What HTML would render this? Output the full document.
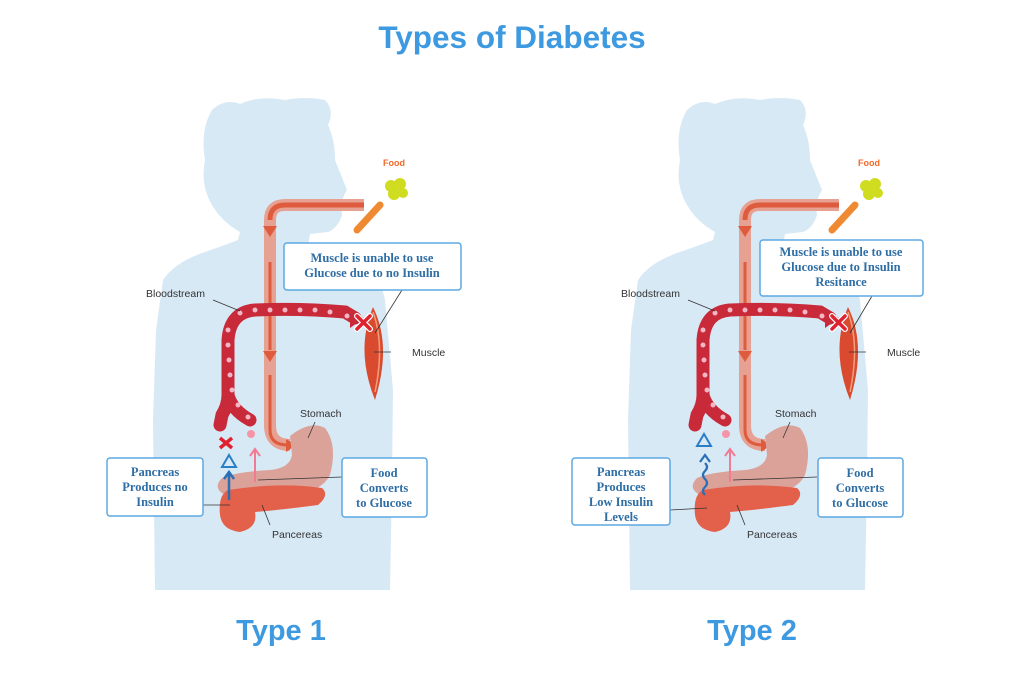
<!DOCTYPE html>
<html><head><meta charset="utf-8"><style>
html,body{margin:0;padding:0;background:#fff;width:1024px;height:683px;overflow:hidden}
svg{display:block}
.lbl{font-family:"Liberation Sans",sans-serif;font-size:10.5px;fill:#333}
.bx{font-family:"Liberation Serif",serif;font-weight:bold;font-size:12.5px;fill:#2f6ea5}
.t{font-family:"Liberation Sans",sans-serif;font-weight:bold;fill:#3d9ae0}
</style></head><body>
<svg width="1024" height="683" viewBox="0 0 1024 683" xmlns="http://www.w3.org/2000/svg">
<defs>
<g id="fig">
  <!-- silhouette -->
  <path fill="#d8e9f6" d="M155,590 L153,420 L156,330 L163,280 Q175,262 205,252 Q225,245 238,240 L240,232 Q222,222 212,205 Q200,185 205,160 Q200,130 212,110 Q225,98 240,104 Q260,95 285,100 Q305,96 325,100 Q335,110 328,125 Q335,140 335,160 L347,190 Q340,200 342,215 Q338,228 328,232 L310,234 L308,245 Q340,255 365,265 Q380,275 385,300 L393,390 L392,480 L390,590 Z"/>
  <!-- food pipe -->
  <path d="M364,205 L285,205 Q270,205 270,220 L270,425 Q270,445 290,445" fill="none" stroke="#e6a192" stroke-width="12"/>
  <path d="M364,205 L285,205 Q270,205 270,220" fill="none" stroke="#df5b3e" stroke-width="5"/>
  <path d="M270,262 L270,350 M270,375 L270,430 Q270,445 288,445" fill="none" stroke="#df5b3e" stroke-width="3"/>
  <path d="M263,226 L277,226 L270,237Z M263,351 L277,351 L270,362Z M286,439 L296,445 L286,452Z" fill="#df5b3e"/>
  <!-- stomach -->
  <path fill="#dba29a" d="M290,436 Q310,420 325,428 Q338,445 330,475 Q322,492 290,495 L225,495 Q212,488 222,478 Q235,472 270,470 Q290,468 292,455 Z"/>
  <!-- bloodstream -->
  <path d="M355,318 L345,312 Q300,308 255,310 Q230,312 228,340 L228,395 Q228,405 222,415 L220,425 M228,395 Q232,410 250,420" fill="none" stroke="#c82a3a" stroke-width="13" stroke-linecap="round"/>
  <path d="M350,308 L364,318 L350,328Z" fill="#c82a3a"/>
  <g fill="#f4b6c4">
    <circle cx="240" cy="313" r="2.5"/><circle cx="255" cy="310" r="2.5"/><circle cx="270" cy="310" r="2.5"/><circle cx="285" cy="310" r="2.5"/><circle cx="300" cy="310" r="2.5"/><circle cx="315" cy="310" r="2.5"/><circle cx="330" cy="312" r="2.5"/><circle cx="347" cy="316" r="2.5"/>
    <circle cx="228" cy="330" r="2.5"/><circle cx="228" cy="345" r="2.5"/><circle cx="229" cy="360" r="2.5"/><circle cx="230" cy="375" r="2.5"/><circle cx="232" cy="390" r="2.5"/><circle cx="238" cy="405" r="2.5"/><circle cx="248" cy="417" r="2.5"/>
  </g>
  <!-- muscle -->
  <path d="M373,307 Q392,345 375,400 Q355,350 373,307Z" fill="#d94a2e"/>
  <path d="M373,312 Q385,345 375,392" fill="none" stroke="#f2a07a" stroke-width="1.5"/>
  <path d="M357,316 L370,329 M370,316 L357,329" stroke="#fff" stroke-width="6" stroke-linecap="round"/>
  <path d="M357,316 L370,329 M370,316 L357,329" stroke="#e0212f" stroke-width="3.5" stroke-linecap="round"/>
  <!-- pancreas -->
  <path fill="#e3604a" d="M228,490 Q280,482 322,488 Q330,495 318,505 Q280,510 255,512 Q258,528 240,532 Q222,530 220,515 Q218,495 228,490Z"/>
  <!-- pink arrow -->
  <circle cx="251" cy="434" r="4" fill="#f596a8"/>
  <path d="M255,482 L255,450 M250,456 L255,449 L260,456" stroke="#f27a93" stroke-width="2" fill="none"/>
  <!-- leaders -->
  <g stroke="#333" stroke-width="0.8" fill="none">
    <path d="M213,300 L240,311"/><path d="M391,352 L374,352"/>
    <path d="M315,422 L308,438"/><path d="M258,480 L342,477"/><path d="M262,505 L270,525"/>
  </g>
  <!-- carrot -->
  <path d="M357,230 L380,205" stroke="#f08a32" stroke-width="7" stroke-linecap="round"/>
  <circle cx="391" cy="186" r="6" fill="#cfdc20"/><circle cx="400" cy="184" r="6" fill="#cfdc20"/><circle cx="394" cy="194" r="6" fill="#cfdc20"/><circle cx="403" cy="193" r="5" fill="#cfdc20"/>
  <text x="383" y="166" class="lbl" style="fill:#f06a2a;font-weight:bold;font-size:9px">Food</text>
  <text x="146" y="297" class="lbl">Bloodstream</text>
  <text x="412" y="356" class="lbl">Muscle</text>
  <text x="300" y="417" class="lbl">Stomach</text>
  <text x="272" y="538" class="lbl">Pancereas</text>
</g>
</defs>

<text x="512" y="48" text-anchor="middle" class="t" font-size="31.5">Types of Diabetes</text>

<use href="#fig"/>
<!-- left specifics -->
<path d="M220,438 L232,448 M232,438 L220,448" stroke="#e0212f" stroke-width="3.5"/>
<path d="M229,455 L236,467 L222,467Z" fill="none" stroke="#2a7ec7" stroke-width="2"/>
<path d="M229,500 L229,473 M224,479 L229,472 L234,479" stroke="#2a6fb5" stroke-width="2.5" fill="none"/>
<path d="M203,505 L230,505" stroke="#333" stroke-width="0.8"/>
<path d="M402,290 L375,333" stroke="#333" stroke-width="0.8"/>
<rect x="284" y="243" width="177" height="47" rx="3" fill="#fff" stroke="#5ba8e2" stroke-width="1.5"/>
<text x="372" y="262" text-anchor="middle" class="bx">Muscle is unable to use</text>
<text x="372" y="277" text-anchor="middle" class="bx">Glucose due to no Insulin</text>
<rect x="107" y="458" width="96" height="58" rx="3" fill="#fff" stroke="#5ba8e2" stroke-width="1.5"/>
<text x="155" y="476" text-anchor="middle" class="bx">Pancreas</text>
<text x="155" y="491" text-anchor="middle" class="bx">Produces no</text>
<text x="155" y="506" text-anchor="middle" class="bx">Insulin</text>
<rect x="342" y="458" width="85" height="59" rx="3" fill="#fff" stroke="#5ba8e2" stroke-width="1.5"/>
<text x="384" y="477" text-anchor="middle" class="bx">Food</text>
<text x="384" y="492" text-anchor="middle" class="bx">Converts</text>
<text x="384" y="507" text-anchor="middle" class="bx">to Glucose</text>
<text x="281" y="640" text-anchor="middle" class="t" font-size="29">Type 1</text>

<use href="#fig" x="475"/>
<!-- right specifics -->
<path d="M704,434 L711,446 L697,446Z" fill="none" stroke="#2a7ec7" stroke-width="2"/>
<path d="M705,495 q-4,-4 0,-8 q4,-4 0,-8 q-4,-4 0,-8 q4,-4 0,-8 M700,462 L705,455 L710,462" stroke="#2a6fb5" stroke-width="2.2" fill="none"/>
<path d="M670,510 L707,508" stroke="#333" stroke-width="0.8"/>
<path d="M872,296 L850,333" stroke="#333" stroke-width="0.8"/>
<rect x="760" y="240" width="163" height="56" rx="3" fill="#fff" stroke="#5ba8e2" stroke-width="1.5"/>
<text x="841" y="256" text-anchor="middle" class="bx">Muscle is unable to use</text>
<text x="841" y="271" text-anchor="middle" class="bx">Glucose due to Insulin</text>
<text x="841" y="286" text-anchor="middle" class="bx">Resitance</text>
<rect x="572" y="458" width="98" height="67" rx="3" fill="#fff" stroke="#5ba8e2" stroke-width="1.5"/>
<text x="621" y="476" text-anchor="middle" class="bx">Pancreas</text>
<text x="621" y="491" text-anchor="middle" class="bx">Produces</text>
<text x="621" y="506" text-anchor="middle" class="bx">Low Insulin</text>
<text x="621" y="521" text-anchor="middle" class="bx">Levels</text>
<rect x="818" y="458" width="85" height="59" rx="3" fill="#fff" stroke="#5ba8e2" stroke-width="1.5"/>
<text x="860" y="477" text-anchor="middle" class="bx">Food</text>
<text x="860" y="492" text-anchor="middle" class="bx">Converts</text>
<text x="860" y="507" text-anchor="middle" class="bx">to Glucose</text>
<text x="752" y="640" text-anchor="middle" class="t" font-size="29">Type 2</text>
</svg>
</body></html>
